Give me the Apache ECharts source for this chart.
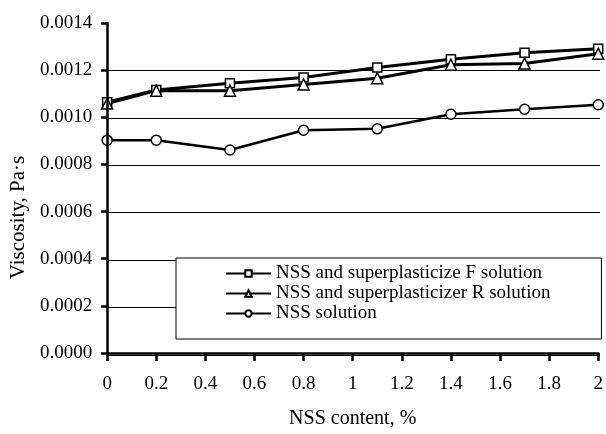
<!DOCTYPE html>
<html>
<head>
<meta charset="utf-8">
<script src="https://cdn.jsdelivr.net/npm/echarts@6/dist/echarts.min.js"></script>
<style>html,body{margin:0;padding:0;background:#fff}#c{width:606px;height:434px}</style>
</head>
<body>
<div id="c"></div>
<script>
var nssContent = [0, 0.2, 0.5, 0.8, 1.1, 1.4, 1.7, 2.0];
var seriesNames = ['NSS and superplasticize F solution', 'NSS and superplasticizer R solution', 'NSS solution'];
var viscosityF = [0.001064, 0.001116, 0.001144, 0.001169, 0.001211, 0.001246, 0.001274, 0.001291];
var viscosityR = [0.001058, 0.001113, 0.001113, 0.001139, 0.001166, 0.001223, 0.001228, 0.001270];
var viscosityNSS = [0.000903, 0.000903, 0.000861, 0.000945, 0.000951, 0.001013, 0.001034, 0.001053];
var yMax = 0.0014, yStep = 0.0002, gridTopValue = 0.0012;

function pairs(xs, ys) { return xs.map(function (x, i) { return [x, ys[i]]; }); }

var font = 'Liberation Serif';
var plotTop = 23, plotBottom = 79, plotH = 434 - plotTop - plotBottom;
var chart = echarts.init(document.getElementById('c'));
chart.setOption({
  animation: false,
  backgroundColor: '#fff',
  textStyle: { fontFamily: font, color: '#000' },
  grid: [
    { left: 106, right: 6, top: plotTop, bottom: plotBottom },
    { left: 106, right: 6, top: plotTop + plotH * (1 - gridTopValue / yMax), bottom: plotBottom }
  ],
  legend: {
    orient: 'vertical',
    left: 176, top: 258,
    padding: [6, 51, 16, 49],
    itemWidth: 45, itemHeight: 8, itemGap: 1,
    backgroundColor: '#fff',
    borderColor: '#000', borderWidth: 1,
    textStyle: { fontFamily: font, fontSize: 19, color: '#000', lineHeight: 19 },
    data: seriesNames,
    z: 10
  },
  xAxis: [{
    type: 'value', min: 0, max: 2, interval: 0.2,
    name: 'NSS content, %', nameLocation: 'middle', nameGap: 56,
    nameTextStyle: { fontFamily: font, fontSize: 20, color: '#000' },
    axisLine: { lineStyle: { color: '#000', width: 2.5 } },
    axisTick: { length: 8, lineStyle: { color: '#000', width: 2.5 } },
    axisLabel: { fontFamily: font, fontSize: 19, color: '#000', margin: 22 },
    splitLine: { show: false },
    z: 5
  }, {
    gridIndex: 1, type: 'value', min: 0, max: 2, show: false
  }],
  yAxis: [{
    type: 'value', min: 0, max: yMax, interval: yStep,
    name: 'Viscosity, Pa·s', nameLocation: 'middle', nameGap: 78, nameRotate: 90,
    nameTextStyle: { fontFamily: font, fontSize: 21, color: '#000', padding: [0, 59, 0, 0] },
    axisLine: { show: true, lineStyle: { color: '#000', width: 2.5 } },
    axisTick: { show: true, length: 6, lineStyle: { color: '#000', width: 2.5 } },
    axisLabel: { fontFamily: font, fontSize: 19, color: '#000', margin: 15,
      formatter: function (v) { return v.toFixed(4); } },
    splitLine: { show: false },
    z: 5
  }, {
    gridIndex: 1, type: 'value', min: 0, max: gridTopValue, interval: yStep,
    axisLine: { show: false }, axisTick: { show: false }, axisLabel: { show: false },
    splitLine: { show: true, lineStyle: { color: '#000', width: 1 } }
  }],
  series: [
    {
      name: seriesNames[0], type: 'line', data: pairs(nssContent, viscosityF),
      symbol: 'rect', symbolSize: 9,
      lineStyle: { color: '#000', width: 3 },
      itemStyle: { color: '#fff', borderColor: '#000', borderWidth: 1.5 },
      z: 3
    },
    {
      name: seriesNames[1], type: 'line', data: pairs(nssContent, viscosityR),
      symbol: 'triangle', symbolSize: 11,
      lineStyle: { color: '#000', width: 3 },
      itemStyle: { color: '#fff', borderColor: '#000', borderWidth: 1.5 },
      z: 3
    },
    {
      name: seriesNames[2], type: 'line', data: pairs(nssContent, viscosityNSS),
      symbol: 'circle', symbolSize: 10,
      lineStyle: { color: '#000', width: 2.5 },
      itemStyle: { color: '#fff', borderColor: '#000', borderWidth: 1.5 },
      z: 3
    }
  ]
});
</script>
</body>
</html>
